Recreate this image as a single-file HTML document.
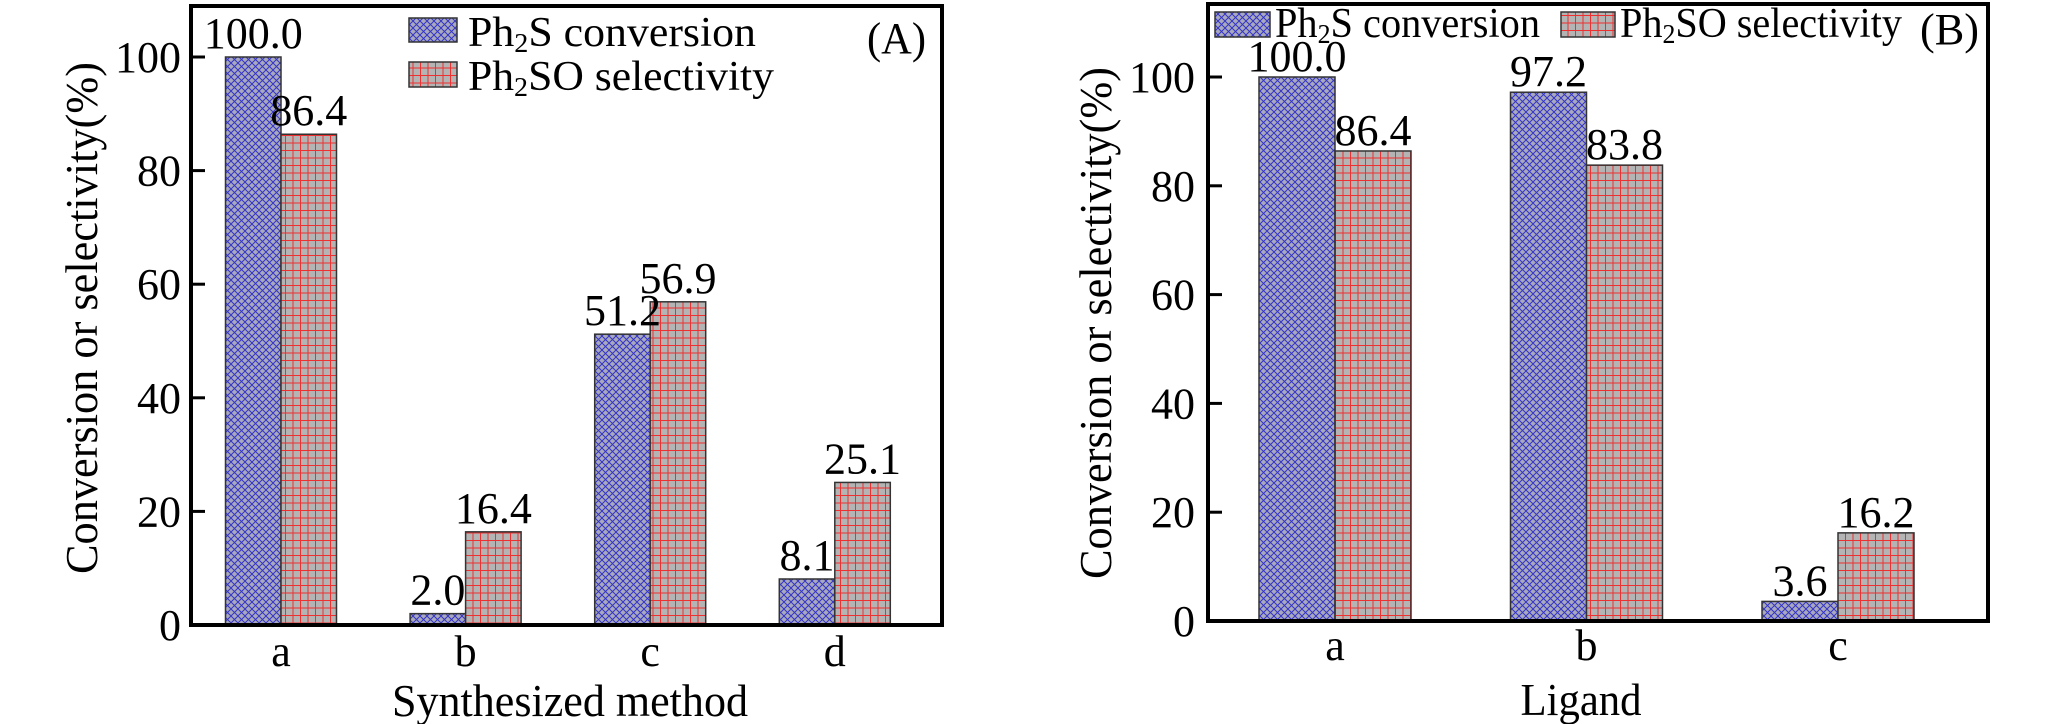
<!DOCTYPE html>
<html><head><meta charset="utf-8"><style>
html,body{margin:0;padding:0;background:#fff;}
svg, svg text{font-family:"Liberation Serif", serif;}
</style></head><body>
<svg id="chart" width="2047" height="724" viewBox="0 0 2047 724" font-family="Liberation Serif, serif" xmlns="http://www.w3.org/2000/svg" style="display:block">
<defs>
<pattern id="pBlue" patternUnits="userSpaceOnUse" width="7" height="7">
<rect width="7" height="7" fill="#a9a9bd"/>
<path d="M0,0 L7,7 M7,0 L0,7" stroke="#3434c8" stroke-width="1"/>
</pattern>
<pattern id="pRed" patternUnits="userSpaceOnUse" width="7.5" height="7.5">
<rect width="7.5" height="7.5" fill="#b4b4b4"/>
<path d="M0,0.5 H7.5 M0.5,0 V7.5" stroke="#ee3030" stroke-width="1"/>
</pattern>
</defs>
<g id="panelA"></g>
<g id="panelB"></g>
</svg>
<script>
const catsA = ['a','b','c','d'];
const convA = [100.0, 2.0, 51.2, 8.1];
const selA = [86.4, 16.4, 56.9, 25.1];
const labConvA = ['100.0','2.0','51.2','8.1'];
const labSelA = ['86.4','16.4','56.9','25.1'];
const catsB = ['a','b','c'];
const convB = [100.0, 97.2, 3.6];
const selB = [86.4, 83.8, 16.2];
const labConvB = ['100.0','97.2','3.6'];
const labSelB = ['86.4','83.8','16.2'];
const yTicks = [0,20,40,60,80,100];
const yTickLabels = ['0','20','40','60','80','100'];

const NS = 'http://www.w3.org/2000/svg';
function mk(tag, attrs, parent, txt){
  const e = document.createElementNS(NS, tag);
  for (const k in attrs) e.setAttribute(k, attrs[k]);
  if (txt !== undefined) e.textContent = txt;
  parent.appendChild(e);
  return e;
}

function panel(g, cfg, cats, conv, sel, labC, labS){
  const y = v => cfg.y0 - v * cfg.ppu;
  const xc = i => cfg.c0 + i * cfg.step;
  cats.forEach((c, i) => {
    const bc = mk('rect', {x: xc(i) - cfg.bw, y: y(conv[i]), width: cfg.bw, height: cfg.y0 - y(conv[i]), fill: 'url(#pBlue)', stroke: '#333', 'stroke-width': 1.5}, g);
    
    
    const bs = mk('rect', {x: xc(i), y: y(sel[i]), width: cfg.bw, height: cfg.y0 - y(sel[i]), fill: 'url(#pRed)', stroke: '#333', 'stroke-width': 1.5}, g);
    
    
    const lc = mk('text', {x: xc(i) - cfg.bw / 2, y: y(conv[i]) - cfg.gap, 'font-size': 44, 'text-anchor': 'middle'}, g, labC[i]);
    
    
    const ls = mk('text', {x: xc(i) + cfg.bw / 2, y: y(sel[i]) - cfg.gap, 'font-size': 44, 'text-anchor': 'middle'}, g, labS[i]);
    
    
    const xl = mk('text', {x: xc(i), y: cfg.xlY, 'font-size': 44, 'text-anchor': 'middle'}, g, c);
    
    
  });
  yTicks.forEach((t, i) => {
    const tk = mk('line', {x1: cfg.L, x2: cfg.L + 14, y1: y(t), y2: y(t), stroke: '#000', 'stroke-width': 3}, g);
    
    
    const tl = mk('text', {x: cfg.tlX, y: y(t) + 15, 'font-size': 44, 'text-anchor': 'end'}, g, yTickLabels[i]);
    
    
  });
  const fr = mk('rect', {x: cfg.L, y: cfg.T, width: cfg.R - cfg.L, height: cfg.y0 - cfg.T, fill: 'none', stroke: '#000', 'stroke-width': 4}, g);
  
  
  const yt = mk('text', {x: 0, y: 0, 'font-size': 46, 'text-anchor': 'middle', transform: 'translate(' + (cfg.ytX + 15) + ',' + cfg.ytY + ') rotate(-90)', textLength: 512, lengthAdjust: 'spacingAndGlyphs'}, g, 'Conversion or selectivity(%)');
  
  
  const xt = mk('text', {x: cfg.xtX, y: cfg.xtY, 'font-size': 46, 'text-anchor': 'middle', textLength: cfg.xtW, lengthAdjust: 'spacingAndGlyphs'}, g, cfg.xTitle);
  
  
  return y;
}

function legendItem(g, x, y, w, h, fill, tx, tyB, tw, main, rest, name){
  const lg = mk('g', {}, g);
  
  
  mk('rect', {x: x, y: y, width: w, height: h, fill: fill, stroke: '#333', 'stroke-width': 1.5}, lg);
  const t = mk('text', {x: tx, y: tyB, 'font-size': 42, textLength: tw, lengthAdjust: 'spacingAndGlyphs'}, lg);
  mk('tspan', {}, t, 'Ph');
  mk('tspan', {'font-size': 27, dy: 6}, t, '2');
  mk('tspan', {dy: -6}, t, rest);
}

const gA = document.getElementById('panelA');
panel(gA, {L: 191, R: 942, T: 6, y0: 625, ppu: 5.68, c0: 281, step: 184.6, bw: 55.5, gap: 9, xlY: 666, tlX: 181, ytX: 82, ytY: 318, xtX: 570, xtY: 716, xtW: 356, xTitle: 'Synthesized method'}, catsA, convA, selA, labConvA, labSelA);
legendItem(gA, 409, 18, 48, 24, 'url(#pBlue)', 468, 46, 288, 'Ph', 'S conversion', 'legend-entry-conversion');
legendItem(gA, 409, 62, 48, 25, 'url(#pRed)', 468, 90, 306, 'Ph', 'SO selectivity', 'legend-entry-selectivity');
const la = mk('text', {x: 867, y: 53, 'font-size': 44, textLength: 59, lengthAdjust: 'spacingAndGlyphs'}, gA, '(A)');



const gB = document.getElementById('panelB');
panel(gB, {L: 1208, R: 1988, T: 4, y0: 621, ppu: 5.44, c0: 1335, step: 251.5, bw: 76, gap: 6, xlY: 660, tlX: 1195, ytX: 1096, ytY: 323, xtX: 1581, xtY: 715, xtW: 121, xTitle: 'Ligand'}, catsB, convB, selB, labConvB, labSelB);
legendItem(gB, 1215, 12, 55, 25, 'url(#pBlue)', 1275, 37, 265, 'Ph', 'S conversion', 'legend-entry-conversion');
legendItem(gB, 1561, 12, 54, 25, 'url(#pRed)', 1620, 37, 282, 'Ph', 'SO selectivity', 'legend-entry-selectivity');
const lb = mk('text', {x: 1920, y: 44, 'font-size': 44, textLength: 59, lengthAdjust: 'spacingAndGlyphs'}, gB, '(B)');


</script>
</body></html>
